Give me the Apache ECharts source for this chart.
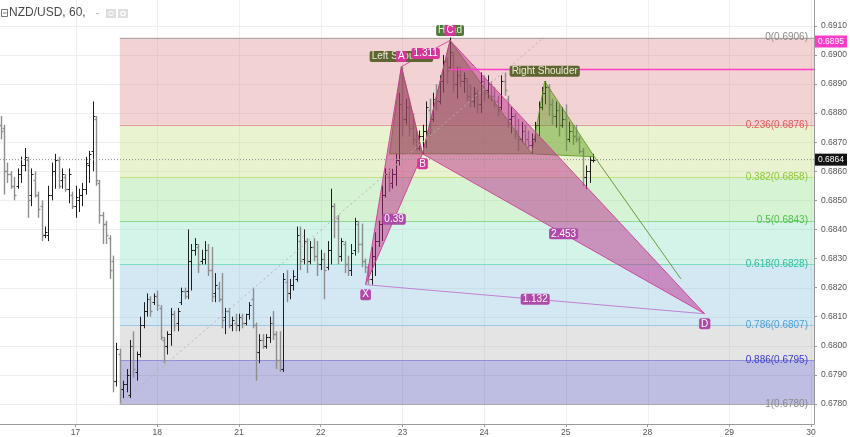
<!DOCTYPE html>
<html><head><meta charset="utf-8">
<script src="https://cdn.jsdelivr.net/npm/echarts@6/dist/echarts.min.js"></script>
<style>html,body{margin:0;padding:0;background:#fff}#c{width:850px;height:437px}</style>
</head><body><div id="c"></div>
<script>
// ---------- data ----------
const dayLabels = ['17','18','21','22','23','24','25','28','29','30'];
const dayHours  = [0,24,48,72,96,120,144,168,192,216];   // hours since 17th 00:00
const priceTicks = [0.678,0.679,0.680,0.681,0.682,0.683,0.684,0.685,0.686,0.687,0.688,0.689,0.690,0.691];
const firstBarHour = -22;

const barOpen = [
0.6876,0.6875,0.6860,0.6859,0.6855,0.6855,0.6859,0.6862,0.6864,0.6852,
0.6857,0.6852,0.6848,0.6838,0.6838,0.6852,0.6860,0.6864,0.6857,0.6858,
0.6854,0.6852,0.6848,0.6850,0.6852,0.6854,0.6862,0.6867,0.6878,0.6856,
0.6845,0.6842,0.6837,0.6829,0.6788,0.6797,0.6785,0.6787,0.6783,0.6800,
0.6791,0.6797,0.6807,0.6812,0.6816,0.6815,0.6817,0.6813,0.6802,0.6800,
0.6804,0.6811,0.6808,0.6815,0.6819,0.6819,0.6829,0.6833,0.6834,0.6829,
0.6830,0.6833,0.6826,0.6818,0.6820,0.6816,0.6810,0.6812,0.6807,0.6808,
0.6807,0.6810,0.6808,0.6811,0.6816,0.6807,0.6798,0.6802,0.6800,0.6803,
0.6808,0.6804,0.6795,0.6792,0.6822,0.6818,0.6821,0.6823,0.6836,0.6830,
0.6836,0.6829,0.6834,0.6831,0.6828,0.6830,0.6827,0.6833,0.6848,0.6844,
0.6831,0.6835,0.6828,0.6826,0.6833,0.6842,0.6835,0.6829,0.6827,0.6823,
0.6831,0.6836,0.6842,0.6852,0.6858,0.6856,0.6859,0.6864,0.6883,0.6878,
0.6882,0.6875,0.6871,0.6868,0.6872,0.6874,0.6881,0.6878,0.6885,0.6884,
0.6891,0.6898,0.6896,0.6900,0.6890,0.6893,0.6891,0.6891,0.6886,0.6884,
0.6886,0.6883,0.6891,0.6888,0.6890,0.6886,0.6884,0.6882,0.6891,0.6885,
0.6878,0.6879,0.6874,0.6871,0.6874,0.6871,0.6869,0.6871,0.6876,0.6882,
0.6887,0.6889,0.6883,0.6879,0.6881,0.6876,0.6878,0.6871,0.6874,0.6872,
0.6871,0.6867,0.6858,0.6860,0.6864];
const barHigh = [
0.6879,0.6876,0.6863,0.6860,0.6858,0.6861,0.6865,0.6868,0.6865,0.6861,
0.6860,0.6853,0.6850,0.6841,0.6855,0.6863,0.6866,0.6865,0.6861,0.6859,
0.6861,0.6853,0.6855,0.6854,0.6856,0.6865,0.6867,0.6884,0.6879,0.6857,
0.6846,0.6843,0.6838,0.6831,0.6801,0.6799,0.6788,0.6792,0.6802,0.6805,
0.6798,0.6810,0.6815,0.6818,0.6817,0.6818,0.6819,0.6814,0.6803,0.6805,
0.6813,0.6812,0.6813,0.6820,0.6820,0.6840,0.6835,0.6837,0.6835,0.6833,
0.6836,0.6835,0.6834,0.6825,0.6822,0.6825,0.6813,0.6813,0.6810,0.6811,
0.6811,0.6811,0.6811,0.6815,0.6820,0.6808,0.6804,0.6804,0.6804,0.6810,
0.6812,0.6805,0.6805,0.6825,0.6826,0.6823,0.6826,0.6841,0.6841,0.6840,
0.6837,0.6836,0.6837,0.6836,0.6833,0.6832,0.6836,0.6854,0.6849,0.6845,
0.6837,0.6836,0.6831,0.6835,0.6844,0.6843,0.6842,0.6830,0.6828,0.6834,
0.6839,0.6843,0.6855,0.6861,0.6861,0.6861,0.6866,0.6887,0.6896,0.6885,
0.6885,0.6880,0.6874,0.6874,0.6876,0.6884,0.6885,0.6887,0.6890,0.6893,
0.6900,0.6899,0.6906,0.6901,0.6896,0.6896,0.6894,0.6892,0.6890,0.6889,
0.6888,0.6894,0.6893,0.6893,0.6891,0.6889,0.6886,0.6893,0.6894,0.6886,
0.6882,0.6880,0.6878,0.6877,0.6876,0.6874,0.6873,0.6877,0.6884,0.6889,
0.6891,0.6890,0.6885,0.6884,0.6883,0.6882,0.6883,0.6877,0.6876,0.6876,
0.6872,0.6868,0.6862,0.6865,0.6866];
const barLow = [
0.6871,0.6852,0.6856,0.6854,0.6850,0.6854,0.6856,0.6860,0.6844,0.6848,
0.6851,0.6844,0.6836,0.6837,0.6836,0.6850,0.6854,0.6854,0.6854,0.6853,
0.6849,0.6847,0.6844,0.6846,0.6848,0.6852,0.6856,0.6860,0.6855,0.6842,
0.6835,0.6835,0.6823,0.6784,0.6786,0.6780,0.6782,0.6784,0.6782,0.6789,
0.6788,0.6796,0.6806,0.6810,0.6810,0.6814,0.6812,0.6802,0.6794,0.6797,
0.6800,0.6805,0.6805,0.6814,0.6816,0.6816,0.6819,0.6831,0.6825,0.6828,
0.6828,0.6824,0.6815,0.6815,0.6815,0.6806,0.6804,0.6806,0.6805,0.6805,
0.6805,0.6806,0.6807,0.6809,0.6806,0.6788,0.6794,0.6799,0.6799,0.6801,
0.6802,0.6792,0.6791,0.6791,0.6815,0.6816,0.6819,0.6822,0.6826,0.6828,
0.6825,0.6828,0.6829,0.6824,0.6826,0.6816,0.6826,0.6828,0.6837,0.6828,
0.6829,0.6825,0.6824,0.6824,0.6831,0.6832,0.6827,0.6825,0.6821,0.6821,
0.6824,0.6834,0.6836,0.6851,0.6853,0.6854,0.6855,0.6862,0.6872,0.6876,
0.6872,0.6869,0.6867,0.6867,0.6866,0.6868,0.6872,0.6877,0.6881,0.6883,
0.6887,0.6890,0.6895,0.6887,0.6885,0.6889,0.6887,0.6884,0.6882,0.6882,
0.6880,0.6880,0.6884,0.6885,0.6884,0.6882,0.6879,0.6881,0.6886,0.6875,
0.6873,0.6871,0.6867,0.6870,0.6869,0.6868,0.6866,0.6870,0.6872,0.6881,
0.6883,0.6879,0.6876,0.6875,0.6872,0.6875,0.6867,0.6870,0.6869,0.6870,
0.6866,0.6855,0.6854,0.6856,0.6863];
const barClose = [
0.6874,0.6860,0.6859,0.6855,0.6852,0.6859,0.6862,0.6865,0.6850,0.6859,
0.6852,0.6847,0.6838,0.6839,0.6852,0.6860,0.6864,0.6855,0.6859,0.6854,
0.6859,0.6848,0.6851,0.6852,0.6854,0.6863,0.6866,0.6879,0.6857,0.6845,
0.6842,0.6838,0.6826,0.6788,0.6799,0.6785,0.6787,0.6790,0.6800,0.6792,
0.6797,0.6807,0.6812,0.6816,0.6812,0.6817,0.6814,0.6803,0.6800,0.6804,
0.6811,0.6807,0.6812,0.6819,0.6817,0.6829,0.6833,0.6835,0.6828,0.6830,
0.6833,0.6826,0.6817,0.6821,0.6816,0.6809,0.6812,0.6807,0.6809,0.6807,
0.6810,0.6808,0.6811,0.6814,0.6807,0.6798,0.6802,0.6800,0.6803,0.6808,
0.6804,0.6795,0.6792,0.6823,0.6818,0.6821,0.6824,0.6838,0.6829,0.6836,
0.6829,0.6834,0.6831,0.6828,0.6830,0.6826,0.6833,0.6848,0.6843,0.6831,
0.6836,0.6828,0.6826,0.6832,0.6843,0.6835,0.6829,0.6827,0.6823,0.6831,
0.6836,0.6842,0.6852,0.6859,0.6855,0.6859,0.6864,0.6883,0.6878,0.6882,
0.6875,0.6871,0.6868,0.6872,0.6874,0.6882,0.6878,0.6885,0.6884,0.6891,
0.6898,0.6895,0.6901,0.6890,0.6893,0.6891,0.6892,0.6886,0.6884,0.6887,
0.6883,0.6891,0.6887,0.6890,0.6886,0.6884,0.6881,0.6891,0.6888,0.6878,
0.6879,0.6874,0.6871,0.6874,0.6871,0.6869,0.6871,0.6876,0.6882,0.6887,
0.6889,0.6883,0.6879,0.6881,0.6876,0.6878,0.6871,0.6874,0.6872,0.6871,
0.6867,0.6858,0.6860,0.6864,0.6864];

const fibLevels = ['0','0.236','0.382','0.5','0.618','0.786','0.886','1'];
const fibPrices = [0.6906,0.6876,0.6858,0.6843,0.6828,0.6807,0.6795,0.6780];
const fibAnchorHours  = [13, 137.5];
const fibAnchorPrices = [0.6780, 0.6906];

const xabcdNames  = ['X','A','B','C','D'];
const xabcdHours  = [85.2, 95.7, 101.9, 110.0, 184.8];
const xabcdPrices = [0.6821, 0.6896, 0.6866, 0.6905, 0.6811];
const xabcdRatios = ['0.39','1.311','2.453','1.132'];

const hsNames  = ['','Left Shoulder','','Head','','Right Shoulder',''];
const hsHours  = [92.2, 95.7, 101.9, 110.0, 134.0, 137.8, 152.4];
const hsPrices = [0.6866, 0.6896, 0.6866, 0.6905, 0.6866, 0.6891, 0.6865];
const hsTargetHours  = [152.4, 177.8];
const hsTargetPrices = [0.6865, 0.6823];

const lastPrice = 0.6864;
const alertPrice = 0.6895;
const alertStartHour = 110.0;

// ---------- view / style ----------
const X_MIN = -22.2, X_MAX = 216.9, Y_MIN = 0.67731, Y_MAX = 0.69189;
const FONT = '"Liberation Sans", Arial, sans-serif';
const fibFill = ['rgba(212,105,105,0.3)','rgba(185,215,98,0.3)','rgba(118,215,112,0.3)','rgba(112,218,185,0.3)',
                 'rgba(112,178,218,0.3)','rgba(165,165,165,0.3)','rgba(40,40,160,0.3)'];
const fibLine = ['#a8a8a8','#e39a9a','#c4df86','#8edb8e','#7fdcc0','#9cc8e6','#9090d8','#a8a8a8'];
const fibText = ['#8a8a8a','#e05a5a','#8cc63f','#4cc24c','#2bbfa0','#4d9fd6','#3b3bd0','#8a8a8a'];
const pinkBox = '#d8359a', purpleBox = '#b04aa8';

const chart = echarts.init(document.getElementById('c'), null, {renderer:'canvas'});

const bars = barOpen.map((o,k)=>[firstBarHour+k, o, barHigh[k], barLow[k], barClose[k]]);

function seg(api, h1, p1, h2, p2, style){
  const a = api.coord([h1,p1]), b = api.coord([h2,p2]);
  return {type:'line', shape:{x1:a[0],y1:a[1],x2:b[0],y2:b[1]}, style:style};
}

const lineDefs = [
  {h:fibAnchorHours, p:fibAnchorPrices, style:{stroke:'#b4b4b4', lineWidth:1, lineDash:[2,3]}},
  {h:[X_MIN,X_MAX], p:[lastPrice,lastPrice], style:{stroke:'#8a8a8a', lineWidth:1, lineDash:[1,2]}},
  {h:[alertStartHour,X_MAX], p:[alertPrice,alertPrice], style:{stroke:'#ff3cc7', lineWidth:1.5}},
  {h:hsTargetHours, p:hsTargetPrices, style:{stroke:'#6a9a3a', lineWidth:1}},
  {h:[xabcdHours[1],xabcdHours[3]], p:[xabcdPrices[1],xabcdPrices[3]], style:{stroke:'rgba(214,60,160,0.85)', lineWidth:1}},
  {h:[xabcdHours[0],xabcdHours[4]], p:[xabcdPrices[0],xabcdPrices[4]], style:{stroke:'rgba(190,110,205,0.85)', lineWidth:1}}
];

const polys = [
  {src:'hs', idx:[0,1,2], fill:'rgba(85,150,20,0.45)', stroke:'rgba(85,150,20,0.8)'},
  {src:'hs', idx:[2,3,4], fill:'rgba(85,150,20,0.45)', stroke:'rgba(85,150,20,0.8)'},
  {src:'hs', idx:[4,5,6], fill:'rgba(85,150,20,0.45)', stroke:'rgba(85,150,20,0.8)'},
  {src:'x', idx:[0,1,2], fill:'rgba(190,30,130,0.48)', stroke:'rgba(205,60,150,0.9)'},
  {src:'x', idx:[2,3,4], fill:'rgba(185,30,135,0.46)', stroke:'rgba(205,60,150,0.9)'}
];

const ratioLegs = [[0,2],[1,3],[2,4],[0,4]];
const labelDefs = [];
hsNames.forEach((n,k)=>{ if(n) labelDefs.push({h:hsHours[k], p:hsPrices[k], text:n, dy:-10,
  bg: n==='Head' ? '#4e7a3c' : '#5e6432', fill:'#ecebd2', z2:5}); });
xabcdNames.forEach((n,k)=>{ const up = (n==='A'||n==='C');
  labelDefs.push({h:xabcdHours[k], p:xabcdPrices[k], text:n, dy: up?-10:10,
  bg: (n==='X'||n==='D') ? purpleBox : pinkBox, fill:'#fff', z2:10}); });
ratioLegs.forEach((lg,k)=>{ labelDefs.push({h:(xabcdHours[lg[0]]+xabcdHours[lg[1]])/2,
  p:(xabcdPrices[lg[0]]+xabcdPrices[lg[1]])/2, text:xabcdRatios[k], dy:0,
  bg: k===1 ? pinkBox : purpleBox, fill:'#fff', z2:10}); });

const tagPrices = [lastPrice, alertPrice];
const tagColors = ['#131313', '#ff3cc7'];
const tagShift = [0, -28];

const option = {
  animation:false,
  backgroundColor:'#ffffff',
  title:{text:'NZD/USD, 60,', left:9, top:7, padding:0, textStyle:{fontSize:12, fontWeight:'normal', color:'#4a4a4a', fontFamily:FONT}},
  graphic:[
    {type:'rect', shape:{x:1.5,y:9.5,width:6,height:7}, style:{fill:'none', stroke:'#777', lineWidth:1}},
    {type:'line', shape:{x1:3,y1:13,x2:6.5,y2:13}, style:{stroke:'#777', lineWidth:1}},
    {type:'line', shape:{x1:96,y1:13.5,x2:99,y2:13.5}, style:{stroke:'#bbb', lineWidth:1}},
    {type:'rect', shape:{x:106,y:9,width:10,height:9}, style:{fill:'#dedede'}},
    {type:'rect', shape:{x:118,y:9,width:10,height:9}, style:{fill:'#dedede'}},
    {type:'circle', shape:{cx:111,cy:13.5,r:2.2}, style:{fill:'none', stroke:'#fff', lineWidth:1}},
    {type:'circle', shape:{cx:123,cy:13.5,r:2.2}, style:{fill:'none', stroke:'#fff', lineWidth:1.3}}
  ],
  grid:{left:0, right:31, top:0, bottom:13, containLabel:false},
  xAxis:{type:'value', min:X_MIN, max:X_MAX,
    axisLine:{show:true, onZero:false, lineStyle:{color:'#9a9a9a'}},
    axisTick:{show:true, customValues:dayHours, length:3, lineStyle:{color:'#9a9a9a'}},
    axisLabel:{customValues:dayHours, formatter:(v)=>{const i=dayHours.indexOf(v); return i<0?'':dayLabels[i];},
      color:'#555', fontSize:8.5, fontFamily:FONT, margin:4},
    splitLine:{show:false}},
  yAxis:{type:'value', position:'right', min:Y_MIN, max:Y_MAX,
    axisLine:{show:true, onZero:false, lineStyle:{color:'#9a9a9a'}},
    axisTick:{show:true, customValues:priceTicks, length:3, lineStyle:{color:'#9a9a9a'}},
    axisLabel:{customValues:priceTicks, formatter:(v)=>v.toFixed(4), color:'#555', fontSize:8.5, fontFamily:FONT, margin:7},
    splitLine:{show:false}},
  series:[
    { // horizontal grid
      type:'custom', z:1, silent:true, clip:false, data:priceTicks.map((p,k)=>[k,p]),
      renderItem:(params,api)=>{ const p=priceTicks[params.dataIndex];
        const a=api.coord([X_MIN,p]), b=api.coord([X_MAX,p]); const y=Math.round(a[1])+0.5;
        return {type:'line', shape:{x1:a[0],y1:y,x2:b[0],y2:y}, style:{stroke:'#efefef', lineWidth:1}}; }
    },
    { // vertical grid
      type:'custom', z:1, silent:true, clip:false, data:dayHours.map((h,k)=>[h,k]),
      renderItem:(params,api)=>{ const h=dayHours[params.dataIndex];
        const a=api.coord([h,Y_MIN]), b=api.coord([h,Y_MAX]); const x=Math.round(a[0])+0.5;
        return {type:'line', shape:{x1:x,y1:a[1],x2:x,y2:b[1]}, style:{stroke:'#efefef', lineWidth:1}}; }
    },
    { // fib bands
      type:'custom', z:2, silent:true, clip:false, data:fibPrices.slice(0,-1).map((p,k)=>[k,p]),
      renderItem:(params,api)=>{ const k=params.dataIndex;
        const a=api.coord([fibAnchorHours[0], fibPrices[k]]), b=api.coord([X_MAX, fibPrices[k+1]]);
        return {type:'rect', shape:{x:a[0], y:a[1], width:b[0]-a[0], height:b[1]-a[1]}, style:{fill:fibFill[k]}}; }
    },
    { // fib lines + labels
      type:'custom', z:3, silent:true, clip:false, data:fibPrices.map((p,k)=>[k,p]),
      renderItem:(params,api)=>{ const k=params.dataIndex;
        const a=api.coord([fibAnchorHours[0], fibPrices[k]]), b=api.coord([X_MAX, fibPrices[k]]);
        const y=Math.round(a[1])+0.5;
        return {type:'group', children:[
          {type:'line', shape:{x1:a[0],y1:y,x2:b[0],y2:y}, style:{stroke:fibLine[k], lineWidth:1}},
          {type:'text', x:b[0]-6, y:a[1], style:{text:fibLevels[k]+'('+fibPrices[k].toFixed(4)+')',
            fill:fibText[k], font:'10px '+FONT, align:'right', verticalAlign:'middle'}}
        ]}; }
    },
    { // OHLC bars
      type:'custom', name:'NZD/USD', z:5, clip:false, data:bars, encode:{x:0, y:[1,2,3,4]},
      renderItem:(params,api)=>{
        const h=api.value(0);
        const pO=api.coord([h,api.value(1)]), pH=api.coord([h,api.value(2)]),
              pL=api.coord([h,api.value(3)]), pC=api.coord([h,api.value(4)]);
        const x=Math.round(pO[0])+0.5;
        const up=api.value(4)>=api.value(1);
        const st= up ? {stroke:'#1e1e1e', lineWidth:1} : {stroke:'#8e8e8e', lineWidth:1.4};
        const yo=Math.round(pO[1])+0.5, yc=Math.round(pC[1])+0.5;
        return {type:'group', children:[
          {type:'line', shape:{x1:x,y1:pH[1],x2:x,y2:pL[1]}, style:st},
          {type:'line', shape:{x1:x-2,y1:yo,x2:x,y2:yo}, style:st},
          {type:'line', shape:{x1:x,y1:yc,x2:x+2,y2:yc}, style:st}
        ]}; }
    },
    { // pattern fills
      type:'custom', z:6, silent:true, clip:false, data:polys.map((d,k)=>[k,0]),
      renderItem:(params,api)=>{ const d=polys[params.dataIndex];
        const H = d.src==='hs'?hsHours:xabcdHours, P = d.src==='hs'?hsPrices:xabcdPrices;
        const pts = d.idx.map(i=>api.coord([H[i],P[i]]));
        return {type:'polygon', shape:{points:pts}, style:{fill:d.fill, stroke:d.stroke, lineWidth:1}}; }
    },
    { // lines
      type:'custom', z:7, silent:true, clip:false, data:lineDefs.map((d,k)=>[k,0]),
      renderItem:(params,api)=>{ const d=lineDefs[params.dataIndex];
        return seg(api, d.h[0], d.p[0], d.h[1], d.p[1], d.style); }
    },
    { // labels
      type:'custom', z:8, silent:true, clip:false, data:labelDefs.map((d,k)=>[k,0]),
      renderItem:(params,api)=>{ const d=labelDefs[params.dataIndex];
        const c=api.coord([d.h,d.p]);
        return {type:'text', z2:d.z2, x:c[0], y:c[1]+d.dy, style:{text:d.text, fill:d.fill,
          font:'10px '+FONT, align:'center', verticalAlign:'middle',
          backgroundColor:d.bg, padding:[1,2,0,2], borderRadius:2}}; }
    },
    { // axis price tags
      type:'custom', z:9, silent:true, clip:false, data:tagPrices.map((p,k)=>[k,p]),
      renderItem:(params,api)=>{ const k=params.dataIndex;
        const c=api.coord([X_MAX, tagPrices[k]]);
        return {type:'text', x:c[0]+1, y:c[1]+tagShift[k], style:{text:tagPrices[k].toFixed(4), fill:'#fff',
          font:'8.5px '+FONT, align:'left', verticalAlign:'middle', backgroundColor:tagColors[k], padding:[2,3,1,3]}}; }
    }
  ]
};
chart.setOption(option);
</script>
</body></html>
